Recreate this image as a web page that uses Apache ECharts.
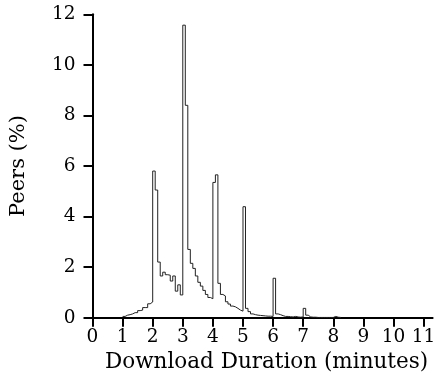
<!DOCTYPE html>
<html><head><meta charset="utf-8">
<script src="https://cdn.jsdelivr.net/npm/echarts@6/dist/echarts.min.js"></script>
<style>html,body{margin:0;padding:0;background:#fff}#c{width:435px;height:382px}</style>
</head><body><div id="c"></div>
<script>
// Histogram of download durations: bins of 5 seconds (1/12 minute) starting at 1 minute
const binStart = 1;
const binWidth = 1 / 12;
const peersMin1 = [0.05, 0.1, 0.12, 0.15, 0.2, 0.2, 0.28, 0.3, 0.4, 0.4, 0.55, 0.62];
const peersMin2 = [5.8, 5.05, 2.2, 1.65, 1.8, 1.7, 1.68, 1.45, 1.65, 1.05, 1.3, 0.9];
const peersMin3 = [11.57, 8.4, 2.7, 2.15, 1.95, 1.65, 1.4, 1.25, 1.08, 0.92, 0.8, 0.75];
const peersMin4 = [5.35, 5.65, 1.36, 0.92, 0.86, 0.63, 0.54, 0.46, 0.43, 0.37, 0.3, 0.26];
const peersMin5 = [4.39, 0.37, 0.24, 0.15, 0.12, 0.1, 0.09, 0.08, 0.07, 0.06, 0.06, 0.05];
const peersMin6 = [1.56, 0.15, 0.12, 0.08, 0.05, 0.05, 0.04, 0.03, 0.05, 0.03, 0.02, 0.03];
const peersMin7 = [0.37, 0.1, 0.03, 0.02, 0.02, 0.01, 0.01, 0.01, 0.01, 0.01, 0.01, 0.01];
const peersMin8 = [0.05, 0.02, 0.01];
const xTicks = [0, 1, 2, 3, 4, 5, 6, 7, 8, 9, 10, 11];
const yTicks = [0, 2, 4, 6, 8, 10, 12];
const xTitle = 'Download Duration (minutes)';
const yTitle = 'Peers (%)';

const values = [].concat(peersMin1, peersMin2, peersMin3, peersMin4, peersMin5, peersMin6, peersMin7, peersMin8);
const points = values.map((v, i) => [binStart + i * binWidth, v]);
points.push([binStart + values.length * binWidth, 0]);

const FONT = 'DejaVu Serif';
const chart = echarts.init(document.getElementById('c'), null, {renderer: 'canvas'});
chart.setOption({
  animation: false,
  backgroundColor: '#fff',
  grid: {left: 92.5, top: 14.3, right: 2.4, bottom: 64.3, containLabel: false, outerBoundsMode: 'none'},
  xAxis: {
    type: 'value', min: 0, max: 11.3,
    axisLine: {show: true, lineStyle: {color: '#000', width: 2}},
    axisTick: {show: true, customValues: xTicks, length: 9, lineStyle: {color: '#000', width: 2}},
    axisLabel: {customValues: xTicks, color: '#000', fontFamily: FONT, fontSize: 18.5, margin: 10},
    splitLine: {show: false},
    name: xTitle, nameLocation: 'middle', nameGap: 27,
    nameTextStyle: {color: '#000', fontFamily: FONT, fontSize: 21.5, padding: [0, 0, 0, 8]}
  },
  yAxis: {
    type: 'value', min: 0, max: 12, interval: 2,
    axisLine: {show: true, lineStyle: {color: '#000', width: 2}},
    axisTick: {show: true, customValues: yTicks, length: 9, lineStyle: {color: '#000', width: 2}},
    axisLabel: {customValues: yTicks, color: '#000', fontFamily: FONT, fontSize: 18.5, margin: 17},
    splitLine: {show: false},
    name: yTitle, nameLocation: 'middle', nameGap: 63,
    nameTextStyle: {color: '#000', fontFamily: FONT, fontSize: 21}
  },
  series: [{
    type: 'line', step: 'end', data: points, symbol: 'none', silent: true,
    lineStyle: {color: '#222', width: 1}
  }]
});
</script></body></html>
